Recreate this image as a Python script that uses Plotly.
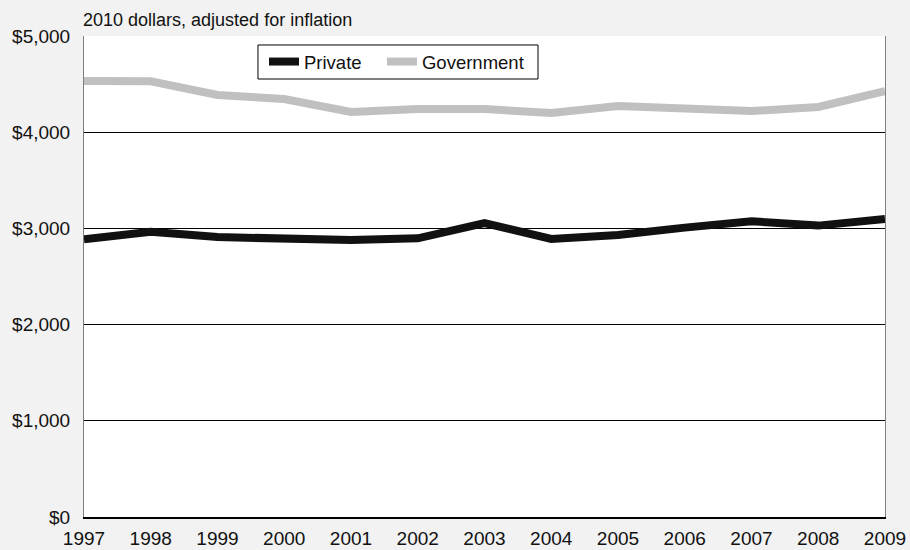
import plotly.graph_objects as go

years = [1997, 1998, 1999, 2000, 2001, 2002, 2003, 2004, 2005, 2006, 2007, 2008, 2009]
private = [2887, 2966, 2910, 2893, 2879, 2897, 3056, 2890, 2931, 3008, 3074, 3029, 3098]
government = [4532, 4530, 4387, 4345, 4210, 4241, 4241, 4200, 4272, 4241, 4220, 4262, 4428]
y_ticks = [0, 1000, 2000, 3000, 4000, 5000]
y_tick_text = ["$0", "$1,000", "$2,000", "$3,000", "$4,000", "$5,000"]
subtitle = "2010 dollars, adjusted for inflation"

font = "Liberation Sans, Arial, sans-serif"
nbsp = "\u00a0"

fig = go.Figure()
fig.add_trace(go.Scatter(x=years, y=private, name="Private" + nbsp * 3, mode="lines",
                         line=dict(color="#111111", width=8)))
fig.add_trace(go.Scatter(x=years, y=government, name="Government", mode="lines",
                         line=dict(color="#c0c0c0", width=8)))

fig.update_layout(
    width=910, height=550,
    margin=dict(l=84, r=25, t=36, b=33),
    paper_bgcolor="#f2f2f2",
    plot_bgcolor="#ffffff",
    font=dict(family=font, size=19, color="#111111"),
    showlegend=True,
    legend=dict(
        orientation="h",
        x=0.2247, y=0.9854, xanchor="left", yanchor="top",
        bgcolor="rgba(0,0,0,0)", borderwidth=0,
        font=dict(family=font, size=18.5, color="#111111"),
        itemwidth=30,
    ),
    # framed box behind the legend entries
    shapes=[dict(
        type="rect", xref="paper", yref="paper",
        x0=0.2172, x1=0.5668, y0=0.9106, y1=0.9813,
        line=dict(color="#000000", width=1), fillcolor="#ffffff", layer="below",
    )],
    xaxis=dict(
        range=[1997, 2009],
        tickmode="array", tickvals=years, ticktext=[str(y) for y in years],
        showgrid=False, zeroline=False, automargin=False,
        showline=True, linecolor="#000000", linewidth=2,
        ticks="", ticklabelstandoff=3,
        tickfont=dict(family=font, size=19, color="#111111"),
    ),
    yaxis=dict(
        range=[0, 5000],
        tickmode="array", tickvals=y_ticks, ticktext=y_tick_text,
        showgrid=True, gridcolor="#000000", gridwidth=1,
        zeroline=False, automargin=False,
        showline=True, linecolor="#808080", linewidth=1, mirror=True,
        ticks="", ticklabelstandoff=9,
        tickfont=dict(family=font, size=19, color="#111111"),
    ),
    annotations=[dict(
        text=subtitle, xref="paper", yref="paper", x=0, y=1,
        xanchor="left", yanchor="bottom", yshift=4, xshift=-3, showarrow=False,
        font=dict(family=font, size=18, color="#111111"),
    )],
)

fig.write_html("out.html")
